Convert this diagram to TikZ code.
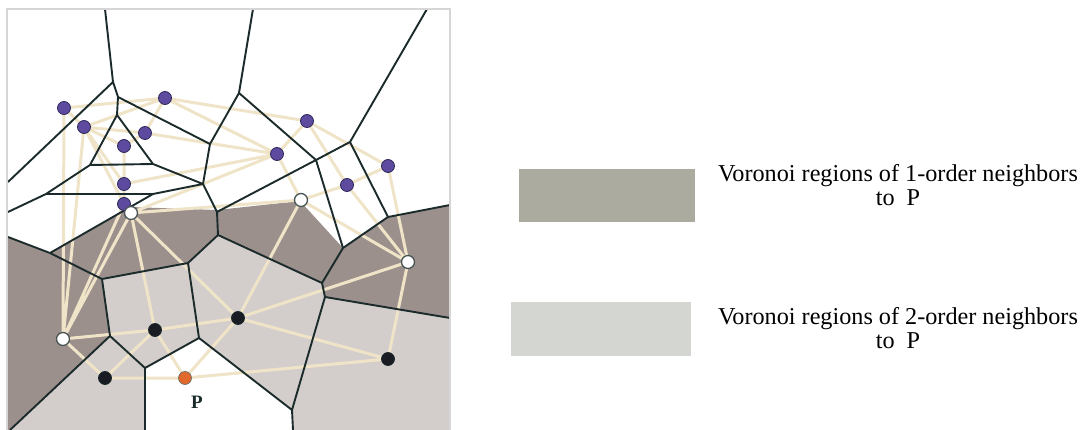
\documentclass[tikz,border=0pt]{standalone}
\usepackage{fontspec}
\setmainfont{Liberation Serif}
\definecolor{darkreg}{HTML}{9C908D}
\definecolor{lightreg}{HTML}{D3CECB}
\definecolor{beige}{HTML}{F0E4C8}
\definecolor{vline}{HTML}{1B2B2B}
\definecolor{purp}{HTML}{5E4A9E}
\definecolor{purpo}{HTML}{2E2A5A}
\definecolor{blk}{HTML}{1A1C24}
\definecolor{orng}{HTML}{E2692C}
\definecolor{frame}{HTML}{D6D6D6}
\definecolor{leg1}{HTML}{ABAC9F}
\definecolor{leg2}{HTML}{D4D6D1}
\tikzset{
  delaunay/.style={draw=beige, line width=3pt},
  voro/.style={draw=vline, line width=1.9pt, line join=round},
  purpdot/.style={circle, fill=purp, draw=purpo, line width=0.8pt, minimum size=13pt, inner sep=0pt},
  whitedot/.style={circle, fill=white, draw=vline!80, line width=1.3pt, minimum size=13pt, inner sep=0pt},
  blackdot/.style={circle, fill=blk, draw=vline, line width=0.8pt, minimum size=13pt, inner sep=0pt},
  pdot/.style={circle, fill=orng, draw=vline!70, line width=0.6pt, minimum size=13pt, inner sep=0pt},
  legbox/.style={inner sep=0pt, outer sep=0pt},
  legtext/.style={align=center, font=\fontsize{24.2}{23.5}\selectfont, inner sep=0pt}
}
\begin{document}
\begin{tikzpicture}[x=1pt,y=-1pt]
\useasboundingbox (0,0) rectangle (1082,430);
% sites
\coordinate (sA) at (64,108);
\coordinate (sB) at (84,127);
\coordinate (sC) at (165,98);
\coordinate (sD) at (145,133);
\coordinate (sE) at (124,146);
\coordinate (sF) at (124,184);
\coordinate (sG) at (124,204);
\coordinate (sH) at (307,121);
\coordinate (sI) at (277,154);
\coordinate (sJ) at (388,166);
\coordinate (sK) at (347,185);
\coordinate (sW1) at (131,213);
\coordinate (sW2) at (301,200);
\coordinate (sW3) at (408,262);
\coordinate (sW4) at (63,339);
\coordinate (sK1) at (155,330);
\coordinate (sK2) at (238,318);
\coordinate (sK3) at (105,378);
\coordinate (sK4) at (388,359);
\coordinate (sP) at (185,378);
% voronoi vertices
\coordinate (T1) at (105,9);
\coordinate (V1) at (113,82);
\coordinate (L1) at (8,182);
\coordinate (V2) at (118,97);
\coordinate (V3) at (117,115);
\coordinate (V4) at (210,144);
\coordinate (V5) at (90,165);
\coordinate (V6) at (153,164);
\coordinate (V7) at (203,184);
\coordinate (V8) at (46,194);
\coordinate (L2) at (8,212);
\coordinate (V9) at (153,194);
\coordinate (V10) at (50,253);
\coordinate (L3) at (8,237);
\coordinate (V11) at (102,279);
\coordinate (V12) at (188,263);
\coordinate (V13) at (218,235);
\coordinate (V14) at (217,212);
\coordinate (V23) at (239,93);
\coordinate (T2) at (253,9);
\coordinate (V24) at (316,160);
\coordinate (V25) at (350,142);
\coordinate (T3) at (427,9);
\coordinate (V21) at (343,248);
\coordinate (V22) at (388,217);
\coordinate (R1) at (450,205);
\coordinate (V19) at (322,283);
\coordinate (V20) at (325,297);
\coordinate (R2) at (450,318);
\coordinate (V18) at (292,410);
\coordinate (B3) at (293,430);
\coordinate (V17) at (199,338);
\coordinate (V16) at (145,368);
\coordinate (B2) at (145,430);
\coordinate (V15) at (110,336);
\coordinate (B1) at (10,430);
\coordinate (D1) at (130,207);
\coordinate (D2) at (217,210);
\coordinate (D3) at (300,201);
\coordinate (BR) at (450,430);
\coordinate (BL) at (8,430);
% fills
\fill[darkreg] (L3) -- (V10) -- (D1) -- (D2) -- (D3) -- (V21) -- (V22) -- (R1) -- (R2) -- (V20) -- (V19) -- (V13) -- (V12) -- (V11) -- (V15) -- (B1) -- (BL) -- cycle;
\fill[lightreg] (V11) -- (V12) -- (V13) -- (V19) -- (V20) -- (R2) -- (BR) -- (B3) -- (V18) -- (V17) -- (V16) -- (B2) -- (B1) -- (V15) -- cycle;
% delaunay edges
\draw[delaunay] (sA) -- (sC) (sA) -- (sB) (sB) -- (sC) (sB) -- (sD) (sB) -- (sE) (sB) -- (sF) (sB) -- (sG)
  (sC) -- (sD) (sC) -- (sI) (sC) -- (sH) (sD) -- (sE) (sD) -- (sI) (sE) -- (sF) (sF) -- (sG) (sF) -- (sI)
  (sG) -- (sW1) (sG) -- (sW4) (sW1) -- (sW4) (sW1) -- (sK1) (sW1) -- (sK2) (sW1) -- (sW2) (sW1) -- (sI)
  (sW4) -- (sK1) (sW4) -- (sK3) (sK1) -- (sK2) (sK1) -- (sP) (sK1) -- (sK3) (sK3) -- (sP) (sP) -- (sK2) (sP) -- (sK4)
  (sK2) -- (sW2) (sK2) -- (sW3) (sK2) -- (sK4) (sK4) -- (sW3) (sW3) -- (sJ) (sW3) -- (sK) (sW3) -- (sW2)
  (sW2) -- (sI) (sW2) -- (sK) (sK) -- (sH) (sK) -- (sJ) (sJ) -- (sH) (sH) -- (sI) (sW4) -- (sA) (sW4) -- (sB);
% voronoi edges
\draw[voro] (T1) -- (V1) (V1) -- (L1) (V1) -- (V2) (V2) -- (V3) (V2) -- (V4) (V3) -- (V5) (V3) -- (V6)
  (V5) -- (V6) (V6) -- (V7) (V4) -- (V7) (V5) -- (V8) (V8) -- (L2) (V8) -- (V9) (V9) -- (V7) (V9) -- (V10)
  (V10) -- (L3) (V10) -- (V11) (V11) -- (V12) (V12) -- (V13) (V13) -- (V14) (V14) -- (V7) (V4) -- (V23)
  (V23) -- (T2) (V23) -- (V24) (V24) -- (V25) (V25) -- (T3) (V24) -- (V14) (V24) -- (V21) (V25) -- (V22)
  (V21) -- (V22) (V22) -- (R1) (V21) -- (V19) (V19) -- (V13) (V19) -- (V20) (V20) -- (R2) (V20) -- (V18)
  (V18) -- (B3) (V18) -- (V17) (V17) -- (V12) (V17) -- (V16) (V16) -- (B2) (V16) -- (V15) (V15) -- (V11) (V15) -- (B1);
% sites
\foreach \s in {A,B,C,D,E,F,G,H,I,J,K} \node[purpdot] (n\s) at (s\s) {};
\foreach \s in {W1,W2,W3,W4} \node[whitedot] (n\s) at (s\s) {};
\foreach \s in {K1,K2,K3,K4} \node[blackdot] (n\s) at (s\s) {};
\node[pdot] (nP) at (sP) {};
\node[font=\fontsize{19}{19}\selectfont\bfseries, text=vline] (lblP) at (197,402) {P};
% frame
\draw[frame, line width=2.2pt] (7,432) -- (7,9) -- (450,9) -- (450,432);
% legend
\node[legbox, fill=leg1, minimum width=176pt, minimum height=53pt, anchor=north west] (leg1box) at (519,169) {};
\node[legbox, fill=leg2, minimum width=180pt, minimum height=54pt, anchor=north west] (leg2box) at (511,302) {};
\node[legtext] (leg1txt) at (898,185) {Voronoi regions of 1-order neighbors\\to\ \ P};
\node[legtext] (leg2txt) at (898,328) {Voronoi regions of 2-order neighbors\\to\ \ P};
\end{tikzpicture}
\end{document}
